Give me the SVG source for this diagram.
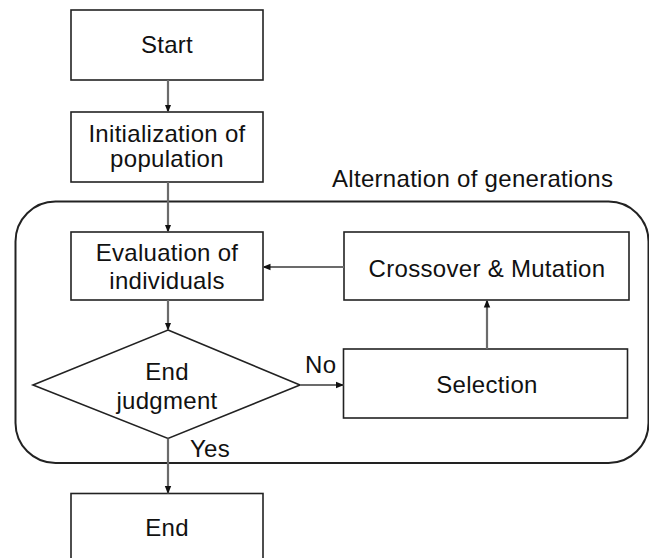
<svg xmlns="http://www.w3.org/2000/svg" width="649" height="558" viewBox="0 0 649 558">
  <style>
    .box { fill: #ffffff; stroke: #222222; stroke-width: 1.6; }
    .loop { fill: none; stroke: #222222; stroke-width: 2; }
    .conn { fill: none; stroke: #6b6b6b; stroke-width: 2.2; marker-end: url(#arrow); }
    .lbl { font-family: "Liberation Sans", Arial, sans-serif; font-size: 24px; fill: #111111; text-anchor: middle; letter-spacing: 0.3px; }
    .side { text-anchor: start; }
  </style>
  <defs>
    <marker id="arrow" viewBox="0 0 8 8" refX="7.5" refY="4" markerWidth="8" markerHeight="8" markerUnits="userSpaceOnUse" orient="auto">
      <path d="M0,0.8 L8,4 L0,7.2 Z" fill="#111111"/>
    </marker>
  </defs>

  <!-- loop frame for the generation cycle -->
  <g id="generations">
    <rect class="loop" x="15.5" y="201.5" width="633" height="261.5" rx="40" ry="40"/>
    <text class="lbl side" x="332" y="187">Alternation of generations</text>
  </g>

  <g id="start">
    <rect class="box" x="71" y="10" width="192" height="70"/>
    <text class="lbl" x="167" y="53">Start</text>
  </g>

  <g id="init">
    <rect class="box" x="71" y="112" width="192" height="70"/>
    <text class="lbl" x="167" y="142">Initialization of</text>
    <text class="lbl" x="167" y="167">population</text>
  </g>

  <g id="evaluation">
    <rect class="box" x="71" y="232" width="192" height="68"/>
    <text class="lbl" x="167" y="261">Evaluation of</text>
    <text class="lbl" x="167" y="289">individuals</text>
  </g>

  <g id="crossover">
    <rect class="box" x="344" y="232" width="285" height="68"/>
    <text class="lbl" x="487" y="277">Crossover &amp; Mutation</text>
  </g>

  <g id="judgment">
    <polygon class="box" points="168,330 300,385 168,438.5 33,385"/>
    <text class="lbl" x="167" y="380">End</text>
    <text class="lbl" x="167" y="409">judgment</text>
  </g>

  <g id="selection">
    <rect class="box" x="343.5" y="349" width="284" height="69"/>
    <text class="lbl" x="487" y="393">Selection</text>
  </g>

  <g id="end">
    <rect class="box" x="71" y="493.5" width="192" height="80"/>
    <text class="lbl" x="167" y="536">End</text>
  </g>

  <g id="connectors">
    <line class="conn" x1="168" y1="80" x2="168" y2="112"/>
    <line class="conn" x1="168" y1="182" x2="168" y2="232"/>
    <line class="conn" x1="168" y1="300" x2="168" y2="330"/>
    <line class="conn" x1="300" y1="385" x2="343.5" y2="385"/>
    <line class="conn" x1="487" y1="349" x2="487" y2="300"/>
    <line class="conn" x1="344" y1="267" x2="263" y2="267"/>
    <line class="conn" x1="168" y1="438.5" x2="168" y2="493.5"/>
    <text class="lbl side" x="305" y="373">No</text>
    <text class="lbl side" x="190" y="457">Yes</text>
  </g>
</svg>
